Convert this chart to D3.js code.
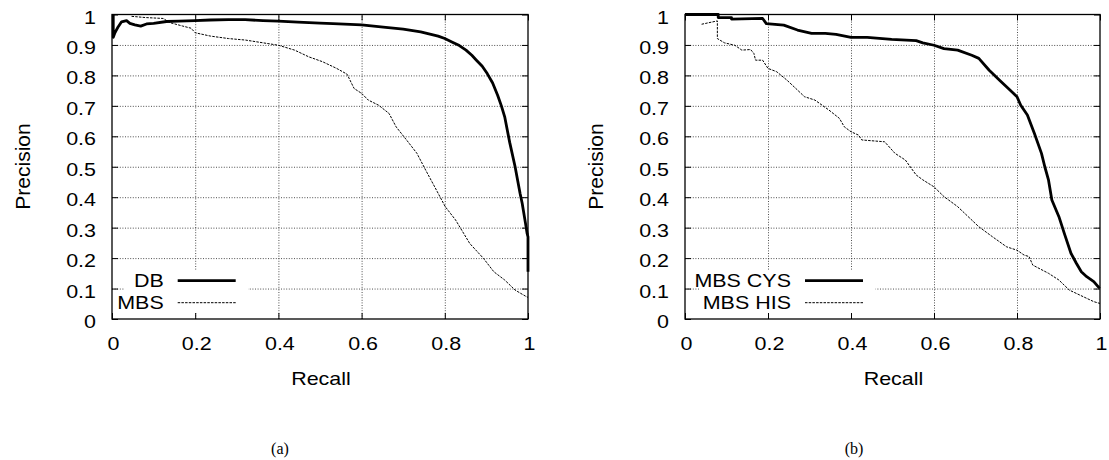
<!DOCTYPE html>
<html>
<head>
<meta charset="utf-8">
<script src="https://cdn.jsdelivr.net/npm/d3@7"></script>
<style>
  html, body { margin: 0; padding: 0; background: #fff; }
  svg { display: block; }
</style>
</head>
<body>
<svg id="chart" width="1109" height="460"></svg>
<script>
// ---------- data ----------
const recallTicks = [0, 0.2, 0.4, 0.6, 0.8, 1];
const recallTickLabels = ["0", "0.2", "0.4", "0.6", "0.8", "1"];
const precisionTicks = [0, 0.1, 0.2, 0.3, 0.4, 0.5, 0.6, 0.7, 0.8, 0.9, 1];
const precisionTickLabels = ["0", "0.1", "0.2", "0.3", "0.4", "0.5", "0.6", "0.7", "0.8", "0.9", "1"];

const xTitle = "Recall";
const yTitle = "Precision";
const panelCaptions = ["(a)", "(b)"];
const legendA = ["DB", "MBS"];
const legendB = ["MBS CYS", "MBS HIS"];

// panel (a): [recall, precision]
const dbPoints = [
  [0.003,1.0],[0.003,0.925],[0.007,0.94],[0.015,0.96],[0.023,0.976],[0.035,0.98],[0.043,0.971],
  [0.055,0.966],[0.069,0.962],[0.083,0.969],[0.10,0.971],[0.131,0.977],[0.16,0.978],[0.2,0.98],
  [0.236,0.982],[0.28,0.983],[0.32,0.983],[0.363,0.98],[0.40,0.978],[0.447,0.975],[0.5,0.972],
  [0.531,0.97],[0.6,0.966],[0.658,0.958],[0.70,0.952],[0.742,0.943],[0.784,0.929],[0.80,0.921],
  [0.817,0.91],[0.835,0.898],[0.851,0.883],[0.865,0.866],[0.876,0.85],[0.89,0.83],[0.902,0.806],
  [0.915,0.775],[0.927,0.735],[0.936,0.70],[0.944,0.664],[0.956,0.58],[0.969,0.5],[0.981,0.412],
  [0.986,0.38],[0.994,0.314],[0.998,0.28],[1.0,0.27],[1.0,0.155]
];
const mbsPoints = [
  [0.047,0.994],[0.08,0.99],[0.123,0.987],[0.14,0.973],[0.17,0.962],[0.19,0.955],[0.20,0.94],
  [0.237,0.929],[0.28,0.921],[0.321,0.916],[0.363,0.907],[0.40,0.899],[0.439,0.883],[0.473,0.861],
  [0.506,0.845],[0.54,0.823],[0.565,0.804],[0.582,0.757],[0.60,0.741],[0.616,0.719],[0.641,0.702],
  [0.666,0.675],[0.683,0.631],[0.708,0.588],[0.733,0.544],[0.754,0.489],[0.78,0.423],[0.801,0.369],
  [0.826,0.325],[0.86,0.248],[0.893,0.199],[0.918,0.155],[0.944,0.128],[0.969,0.095],[0.994,0.075],
  [1.0,0.071]
];

// panel (b)
const mbsCysPoints = [
  [0,1.0],[0.08,1.0],[0.08,0.99],[0.112,0.99],[0.112,0.985],[0.187,0.987],[0.196,0.97],[0.238,0.965],
  [0.271,0.949],[0.305,0.938],[0.338,0.938],[0.364,0.935],[0.40,0.925],[0.439,0.925],[0.498,0.918],
  [0.557,0.914],[0.573,0.907],[0.60,0.899],[0.624,0.888],[0.657,0.883],[0.691,0.866],[0.708,0.856],
  [0.733,0.817],[0.758,0.784],[0.783,0.752],[0.80,0.73],[0.809,0.702],[0.825,0.67],[0.842,0.609],
  [0.859,0.544],[0.867,0.5],[0.876,0.456],[0.884,0.391],[0.901,0.336],[0.914,0.281],[0.93,0.216],
  [0.943,0.183],[0.955,0.155],[0.968,0.139],[0.985,0.123],[0.997,0.104],[1.0,0.106]
];
const mbsHisPoints = [
  [0.04,0.968],[0.078,0.979],[0.078,0.921],[0.095,0.907],[0.12,0.899],[0.137,0.883],[0.158,0.885],
  [0.166,0.872],[0.17,0.85],[0.187,0.85],[0.2,0.823],[0.221,0.812],[0.246,0.784],[0.271,0.752],
  [0.288,0.73],[0.313,0.719],[0.347,0.686],[0.372,0.659],[0.384,0.631],[0.40,0.615],[0.418,0.604],
  [0.426,0.588],[0.481,0.582],[0.506,0.544],[0.531,0.522],[0.557,0.473],[0.573,0.457],[0.60,0.434],
  [0.624,0.402],[0.657,0.369],[0.708,0.303],[0.741,0.27],[0.775,0.237],[0.80,0.226],[0.817,0.21],
  [0.829,0.205],[0.838,0.177],[0.876,0.15],[0.901,0.128],[0.926,0.095],[0.96,0.073],[0.985,0.057],
  [1.0,0.051]
];

// ---------- drawing ----------
const svg = d3.select("#chart");
const FONT = "'Liberation Sans', Arial, Helvetica, sans-serif";
const FS = 19;
const SX = 1.13;

const panels = [
  { x0: 112, x1: 528, yTop: 14.5, yBot: 319, caption: panelCaptions[0], capX: 280,
    series: [
      { name: legendA[0], pts: dbPoints, width: 2.8, dash: null },
      { name: legendA[1], pts: mbsPoints, width: 1, dash: "2.5,1.2" }
    ],
    legendTextRight: 51.7, legendBoxLeft: 12 },
  { x0: 685, x1: 1100, yTop: 14.5, yBot: 319, caption: panelCaptions[1], capX: 854,
    series: [
      { name: legendB[0], pts: mbsCysPoints, width: 2.8, dash: null },
      { name: legendB[1], pts: mbsHisPoints, width: 1, dash: "2.5,1.2" }
    ],
    legendTextRight: 106, legendBoxLeft: 15 }
];

function stretchedText(g, x, y, str, anchor) {
  return g.append("text")
    .attr("transform", `translate(${x},${y}) scale(${SX},1)`)
    .attr("text-anchor", anchor)
    .attr("font-family", FONT)
    .attr("font-size", FS)
    .attr("fill", "#000")
    .text(str);
}

panels.forEach(p => {
  const x = d3.scaleLinear().domain([0, 1]).range([p.x0, p.x1]);
  const y = d3.scaleLinear().domain([0, 1]).range([p.yBot, p.yTop]);
  const g = svg.append("g");
  const W = p.x1 - p.x0, H = p.yBot - p.yTop;

  // grid (dotted)
  const gridX = g.append("g").attr("transform", `translate(0,${p.yBot})`)
    .call(d3.axisBottom(x).tickValues(recallTicks.slice(1, -1)).tickSize(-H).tickFormat(""));
  const gridY = g.append("g").attr("transform", `translate(${p.x0},0)`)
    .call(d3.axisLeft(y).tickValues(precisionTicks.slice(1, -1)).tickSize(-W).tickFormat(""));
  [gridX, gridY].forEach(a => {
    a.select(".domain").remove();
    a.selectAll("line").attr("stroke", "#222").attr("stroke-width", 0.8).attr("stroke-dasharray", "1,1.6");
  });

  // legend background (opaque key)
  const row1 = 287, row2 = 309;
  const lineX0 = p.x0 + p.legendTextRight + 14, lineX1 = lineX0 + 58;
  g.append("rect")
    .attr("x", p.x0 + p.legendBoxLeft).attr("y", 270)
    .attr("width", lineX1 + 12.5 - (p.x0 + p.legendBoxLeft)).attr("height", 43)
    .attr("fill", "#fff");

  // curves
  const line = d3.line().x(d => x(d[0])).y(d => y(d[1]));
  p.series.forEach(s => {
    g.append("path").datum(s.pts)
      .attr("d", line)
      .attr("fill", "none")
      .attr("stroke", "#000")
      .attr("stroke-width", s.width)
      .attr("stroke-linejoin", "round")
      .attr("stroke-dasharray", s.dash);
  });

  // frame
  g.append("rect").attr("x", p.x0).attr("y", p.yTop).attr("width", W).attr("height", H)
    .attr("fill", "none").attr("stroke", "#000").attr("stroke-width", 1.3);

  // inward ticks on all four sides
  const tb = g.append("g").attr("transform", `translate(0,${p.yBot})`)
    .call(d3.axisBottom(x).tickValues(recallTicks).tickSizeInner(-6).tickSizeOuter(0).tickFormat(""));
  const tt = g.append("g").attr("transform", `translate(0,${p.yTop})`)
    .call(d3.axisTop(x).tickValues(recallTicks).tickSizeInner(-6).tickSizeOuter(0).tickFormat(""));
  const tl = g.append("g").attr("transform", `translate(${p.x0},0)`)
    .call(d3.axisLeft(y).tickValues(precisionTicks).tickSizeInner(-6).tickSizeOuter(0).tickFormat(""));
  const tr = g.append("g").attr("transform", `translate(${p.x1},0)`)
    .call(d3.axisRight(y).tickValues(precisionTicks).tickSizeInner(-6).tickSizeOuter(0).tickFormat(""));
  [tb, tt, tl, tr].forEach(a => {
    a.select(".domain").remove();
    a.selectAll("line").attr("stroke", "#000").attr("stroke-width", 1);
  });

  // tick labels
  recallTicks.forEach((v, i) => stretchedText(g, x(v) + 1.5, 349.5, recallTickLabels[i], "middle"));
  precisionTicks.forEach((v, i) => stretchedText(g, p.x0 - 16, y(v) + 9, precisionTickLabels[i], "end"));

  // axis titles
  stretchedText(g, (p.x0 + p.x1) / 2 + 1, 384.5, xTitle, "middle");
  g.append("text")
    .attr("transform", `translate(${p.x0 - 82},166.5) rotate(-90)`)
    .attr("text-anchor", "middle")
    .attr("font-family", FONT)
    .attr("font-size", 21)
    .attr("fill", "#000")
    .text(yTitle);

  // legend
  [row1, row2].forEach((ry, i) => {
    const s = p.series[i];
    stretchedText(g, p.x0 + p.legendTextRight, ry, s.name, "end");
    g.append("line")
      .attr("x1", lineX0).attr("x2", lineX1)
      .attr("y1", ry - 6.3).attr("y2", ry - 6.3)
      .attr("stroke", "#000").attr("stroke-width", s.width)
      .attr("stroke-dasharray", s.dash);
  });

  // caption
  g.append("text")
    .attr("x", p.capX).attr("y", 454)
    .attr("text-anchor", "middle")
    .attr("font-family", "'Liberation Serif', 'Times New Roman', serif")
    .attr("font-size", 16)
    .attr("fill", "#000")
    .text(p.caption);
});
</script>
</body>
</html>
